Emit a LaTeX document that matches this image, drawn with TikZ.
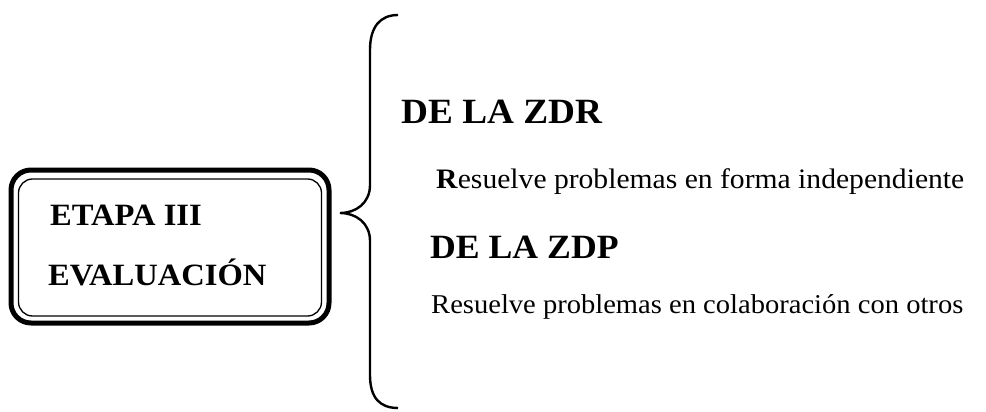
\documentclass[tikz,border=0pt]{standalone}
\usepackage{fontspec}
\setmainfont{Liberation Serif}[FakeStretch=1.05]
\usepackage{tikz}

\begin{document}
\begin{tikzpicture}[x=1pt,y=-1pt]
\useasboundingbox (0,0) rectangle (986,412);

\begin{scope}[every node/.style={rectangle,rounded corners=20pt,draw=black}]
    \node (box) at (170,246.5) [minimum width=318pt,minimum height=153pt,line width=5pt] {};
    \node (inner) at (170,247.5) [minimum width=303pt,minimum height=137pt,line width=1.3pt,rounded corners=14pt] {};
    \end{scope}

\begin{scope}[every node/.style={anchor=base west,inner sep=0pt}]
    \node (etapa) at (50,225) {\fontsize{31}{34}\selectfont\bfseries ETAPA III};
    \node (evalua) at (48,285) {\fontsize{31}{34}\selectfont\bfseries EVALUACIÓN};
    \node (zdr) at (401,124) {\fontsize{35.5}{38}\selectfont\bfseries DE LA ZDR};
    \node (res1) at (436,188) {\fontsize{28.2}{32}\selectfont\textbf{R}esuelve problemas en forma independiente};
    \node (zdp) at (430,258) {\fontsize{34}{37}\selectfont\bfseries DE LA ZDP};
    \node (res2) at (431,313) {\fontsize{27.2}{30}\selectfont Resuelve problemas en colaboración con otros};
    \end{scope}

% brace
\coordinate (tip) at (340,213);
\draw [line width=2.4pt] (398,15) .. controls (380,15) and (370,27) .. (370,50) -- (370,185)
    .. controls (370,203) and (356,213) .. (tip)
    .. controls (356,213) and (370,223) .. (370,241) -- (370,375)
    .. controls (370,398) and (380,408) .. (398,408);

\end{tikzpicture}
\end{document}
